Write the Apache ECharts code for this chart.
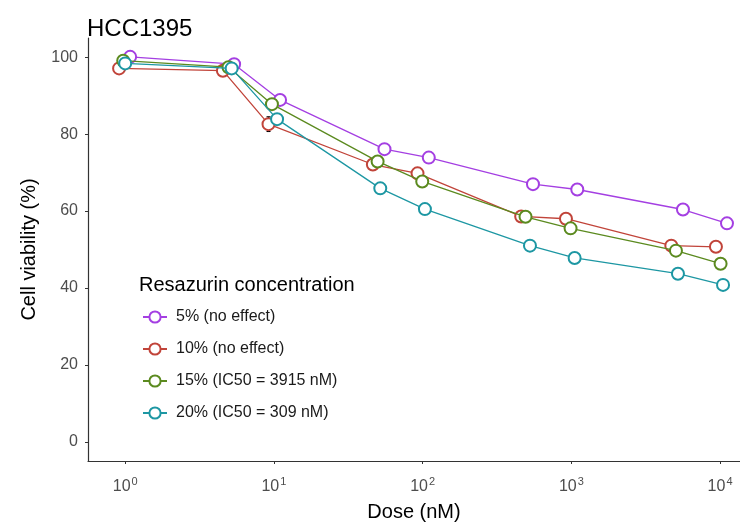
<!DOCTYPE html>
<html>
<head>
<meta charset="utf-8">
<script src="https://cdn.jsdelivr.net/npm/echarts@6/dist/echarts.min.js"></script>
<style>
html,body{margin:0;padding:0;background:#fff;}
#chart{width:740px;height:527px;}
</style>
</head>
<body>
<div id="chart"></div>
<script>
// ---- data ----
const seriesNames = ['5% (no effect)', '10% (no effect)', '15% (IC50 = 3915 nM)', '20% (IC50 = 309 nM)'];
const seriesColors = ['#A43FE2', '#C1443A', '#5B8A1F', '#1D97A3'];

const dose5 = [1.08, 5.4, 11.0, 55.4, 110, 552, 1096, 5630, 11130];
const viab5 = [100.1, 98.2, 88.9, 76.1, 73.9, 67.0, 65.6, 60.4, 56.8];

const dose10 = [0.91, 4.54, 9.2, 46.3, 92.4, 460, 920, 4700, 9380];
const viab10 = [97.1, 96.5, 82.6, 72.1, 69.8, 58.6, 58.0, 51.0, 50.7];

const dose15 = [0.97, 4.95, 9.7, 49.8, 99.4, 492, 988, 5050, 10080];
const viab15 = [99.1, 97.4, 87.8, 72.9, 67.7, 58.5, 55.5, 49.7, 46.3];

const dose20 = [1.0, 5.2, 10.5, 51.9, 103.6, 527, 1052, 5210, 10470];
const viab20 = [98.4, 97.1, 83.9, 65.9, 60.5, 51.0, 47.8, 43.7, 40.8];

// small visible error bars (10% series)
const errDose = [0.91, 9.2];
const errLow = [95.8, 80.7];
const errHigh = [98.4, 84.5];

const xTicks = [1, 10, 100, 1000, 10000];
const yTicks = [0, 20, 40, 60, 80, 100];

// ---- chart ----
const FONT = 'Liberation Sans, Arial, sans-serif';
const allDoses = [dose5, dose10, dose15, dose20];
const allViab = [viab5, viab10, viab15, viab20];

const chart = echarts.init(document.getElementById('chart'), null, {renderer: 'canvas'});

const lineSeries = seriesNames.map((name, i) => ({
  name: name,
  type: 'line',
  data: allDoses[i].map((d, j) => [d, allViab[i][j]]),
  symbol: 'emptyCircle',
  symbolSize: 12,
  showAllSymbol: true,
  lineStyle: {color: seriesColors[i], width: 1.3},
  itemStyle: {color: seriesColors[i], borderColor: seriesColors[i], borderWidth: 1.3},
  emphasis: {disabled: true},
  z: 3 + i,
  animation: false
}));

const errSeries = {
  type: 'custom',
  name: 'err',
  z: 2,
  silent: true,
  animation: false,
  data: errDose.map((d, j) => [d, errLow[j], errHigh[j]]),
  renderItem: function (params, api) {
    const lo = api.coord([api.value(0), api.value(1)]);
    const hi = api.coord([api.value(0), api.value(2)]);
    const w = 2;
    const st = {stroke: '#000', lineWidth: 1.2};
    return {
      type: 'group',
      children: [
        {type: 'line', shape: {x1: lo[0], y1: lo[1], x2: hi[0], y2: hi[1]}, style: st},
        {type: 'line', shape: {x1: lo[0] - w, y1: lo[1], x2: lo[0] + w, y2: lo[1]}, style: st},
        {type: 'line', shape: {x1: hi[0] - w, y1: hi[1], x2: hi[0] + w, y2: hi[1]}, style: st}
      ]
    };
  }
};

const option = {
  backgroundColor: '#fff',
  animation: false,
  textStyle: {fontFamily: FONT},
  title: [
    {
      text: 'HCC1395',
      left: 87,
      top: 17,
      padding: 0,
      textStyle: {fontSize: 24, fontWeight: 'normal', color: '#000', fontFamily: FONT}
    },
    {
      text: 'Resazurin concentration',
      left: 139,
      top: 275,
      padding: 0,
      textStyle: {fontSize: 20, fontWeight: 'normal', color: '#000', fontFamily: FONT}
    }
  ],
  legend: {
    data: seriesNames,
    orient: 'vertical',
    left: 142,
    top: 309,
    padding: 0,
    itemWidth: 24,
    itemHeight: 14,
    itemGap: 16,
    selectedMode: false,
    textStyle: {fontSize: 16, color: '#1A1A1A', fontFamily: FONT, padding: [0, 0, 0, 4]}
  },
  grid: {left: 88, right: 0, top: 38, bottom: 65, containLabel: false},
  xAxis: {
    type: 'log',
    logBase: 10,
    min: 0.5623,
    max: 13614,
    name: 'Dose (nM)',
    nameLocation: 'middle',
    nameGap: 41,
    nameMoveOverlap: false,
    nameTextStyle: {fontSize: 20, color: '#000', fontFamily: FONT},
    axisLine: {show: true, onZero: false, lineStyle: {color: '#333', width: 1.2}},
    axisTick: {show: true, length: 3, lineStyle: {color: '#333', width: 1}, customValues: xTicks},
    splitLine: {show: false},
    minorTick: {show: false},
    axisLabel: {
      customValues: xTicks,
      margin: 15,
      formatter: function (v) {
        const e = Math.round(Math.log10(v));
        return '{b|10}{s|' + e + '}';
      },
      rich: {
        b: {fontSize: 16, color: '#4D4D4D', fontFamily: FONT},
        s: {fontSize: 11, color: '#4D4D4D', fontFamily: FONT, padding: [0, 0, 11, 1]}
      }
    }
  },
  yAxis: {
    type: 'value',
    min: -5,
    max: 105,
    name: 'Cell viability (%)',
    nameLocation: 'middle',
    nameGap: 49,
    nameMoveOverlap: false,
    nameTextStyle: {fontSize: 20, color: '#000', fontFamily: FONT},
    axisLine: {show: true, lineStyle: {color: '#333', width: 1.2}},
    axisTick: {show: true, length: 3, lineStyle: {color: '#333', width: 1}, customValues: yTicks},
    splitLine: {show: false},
    axisLabel: {
      customValues: yTicks,
      margin: 10,
      fontSize: 16,
      color: '#4D4D4D',
      fontFamily: FONT
    }
  },
  series: [errSeries].concat(lineSeries)
};

chart.setOption(option);
</script>
</body>
</html>
